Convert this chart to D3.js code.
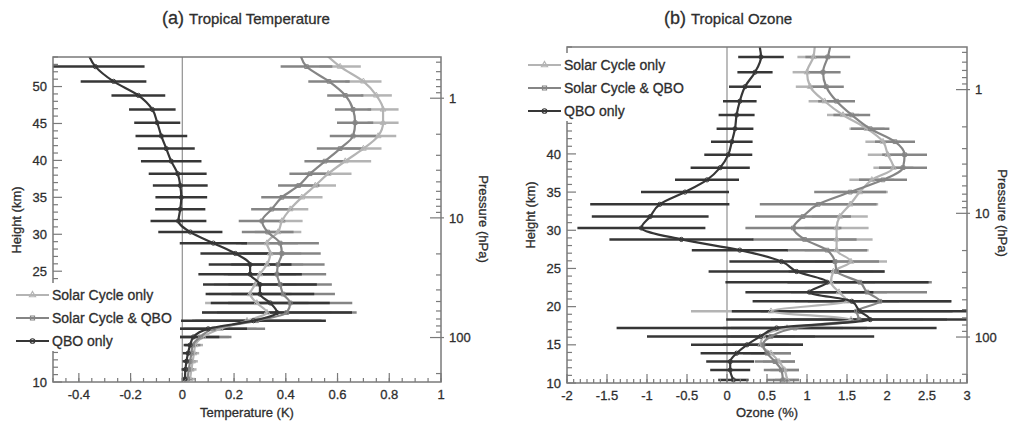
<!DOCTYPE html>
<html lang="en">
<head>
  <meta charset="UTF-8">
  <title>tropical solar cycle</title>
  <script src="https://cdn.jsdelivr.net/npm/d3@7"></script>
  <style>
    body { margin: 0; background: #fff; }
    text { font-family: "Liberation Sans", Arial, sans-serif; fill: #2e2e2e; stroke: #2e2e2e; stroke-width: 0.3px; }
  </style>
</head>
<body>
<script>
  // height levels (km), shared by both panels
  const levels = [54.5, 52.7, 50.7, 48.8, 46.9, 45.1, 43.3, 41.6, 39.9, 38.2, 36.6, 35.0, 33.4, 31.8, 30.3,
    28.8, 27.4, 25.9, 24.6, 23.2, 21.9, 20.7, 19.4, 18.3, 17.2, 16.1, 15.0, 13.9, 12.8, 11.7, 10.4];

  // (a) temperature response, K
  const tempSolar = [0.55, 0.61, 0.70, 0.75, 0.776, 0.776, 0.757, 0.70, 0.63, 0.564, 0.514, 0.462, 0.417, 0.385, 0.37,
    0.327, 0.34, 0.327, 0.30, 0.282, 0.262, 0.288, 0.327, 0.25, 0.147, 0.08, 0.05, 0.045, 0.04, 0.035, 0.03];
  const tempSolarErr = [0.08, 0.08, 0.07, 0.06, 0.06, 0.06, 0.07, 0.07, 0.1, 0.09, 0.08, 0.08, 0.07, 0.08, 0.09,
    0.12, 0.12, 0.14, 0.14, 0.16, 0.16, 0.2, 0.25, 0.2, 0.14, 0.1, 0.03, 0.02, 0.02, 0.02, 0.02];
  const tempBoth = [0.455, 0.48, 0.567, 0.63, 0.66, 0.668, 0.66, 0.61, 0.552, 0.494, 0.45, 0.385, 0.346, 0.308, 0.33,
    0.378, 0.385, 0.37, 0.366, 0.378, 0.39, 0.417, 0.404, 0.288, 0.12, 0.07, 0.04, 0.035, 0.03, 0.025, 0.02];
  const tempBothErr = [0.1, 0.1, 0.08, 0.07, 0.07, 0.07, 0.09, 0.09, 0.08, 0.08, 0.08, 0.08, 0.08, 0.09, 0.1,
    0.15, 0.15, 0.18, 0.19, 0.2, 0.2, 0.24, 0.27, 0.25, 0.2, 0.12, 0.03, 0.02, 0.02, 0.02, 0.02];
  const tempQbo = [-0.365, -0.336, -0.266, -0.17, -0.116, -0.097, -0.081, -0.062, -0.043, -0.018, -0.008, -0.004, -0.008, -0.015, 0.031,
    0.12, 0.205, 0.262, 0.262, 0.30, 0.30, 0.34, 0.366, 0.275, 0.10, 0.043, 0.03, 0.022, 0.016, 0.012, 0.01];
  const tempQboErr = [0.19, 0.19, 0.127, 0.104, 0.09, 0.089, 0.10, 0.11, 0.117, 0.112, 0.106, 0.10, 0.097, 0.108, 0.124,
    0.13, 0.135, 0.16, 0.2, 0.22, 0.21, 0.23, 0.29, 0.28, 0.15, 0.1, 0.025, 0.02, 0.015, 0.015, 0.012];

  // (b) ozone response, %
  const ozoneSolar = [1.10, 1.08, 1.00, 1.04, 1.22, 1.45, 1.75, 1.95, 2.01, 2.08, 1.81, 1.66, 1.54, 1.41, 1.37,
    1.37, 1.37, 1.55, 1.33, 1.30, 1.40, 1.50, 0.55, 1.55, 0.75, 0.45, 0.42, 0.55, 0.65, 0.72, 0.75];
  const ozoneSolarErr = [0.2, 0.2, 0.18, 0.18, 0.2, 0.2, 0.22, 0.22, 0.25, 0.25, 0.28, 0.35, 0.35, 0.35, 0.4,
    0.45, 0.4, 0.45, 0.5, 0.55, 0.6, 0.65, 1.0, 0.9, 0.7, 0.4, 0.35, 0.25, 0.2, 0.18, 0.15];
  const ozoneBoth = [1.30, 1.26, 1.20, 1.24, 1.37, 1.56, 1.79, 2.10, 2.22, 2.20, 1.95, 1.54, 1.14, 0.95, 0.83,
    0.97, 1.25, 1.35, 1.37, 1.66, 1.75, 1.91, 1.62, 1.65, 0.85, 0.55, 0.45, 0.5, 0.6, 0.68, 0.7];
  const ozoneBothErr = [0.28, 0.28, 0.22, 0.22, 0.23, 0.23, 0.24, 0.25, 0.28, 0.3, 0.3, 0.45, 0.73, 0.6, 0.6,
    0.65, 0.5, 0.55, 0.6, 0.9, 0.75, 0.9, 1.2, 1.1, 0.9, 0.55, 0.5, 0.3, 0.25, 0.22, 0.2];
  const ozoneQbo = [0.40, 0.425, 0.35, 0.225, 0.16, 0.12, 0.10, 0.06, 0.016, -0.085, -0.25, -0.525, -0.84, -0.96, -1.07,
    -0.57, 0.16, 0.68, 0.87, 1.25, 1.03, 1.56, 1.66, 1.79, 0.62, 0.42, 0.25, 0.12, 0.04, 0.04, 0.08];
  const ozoneQboErr = [0.29, 0.285, 0.22, 0.2, 0.21, 0.225, 0.23, 0.26, 0.3, 0.37, 0.4, 0.55, 0.87, 0.73, 0.8,
    0.9, 0.6, 0.65, 1.1, 1.27, 0.8, 1.24, 1.6, 1.8, 2.0, 1.42, 0.7, 0.45, 0.3, 0.25, 0.19];

  const seriesNames = ['Solar Cycle only', 'Solar Cycle & QBO', 'QBO only'];
  const heightTicks = [10, 15, 20, 25, 30, 35, 40, 45, 50];
  const pressureTicks = [1, 10, 100];

  const colors = ['#b4b4b4', '#858585', '#363636'];
  const markers = [d3.symbolTriangle, d3.symbolSquare, d3.symbolCircle];

  // approximate height of a pressure level (km)
  const zOfP = p => 48.42 - 16.2 * Math.log10(p);

  const svg = d3.select('body').append('svg')
    .attr('width', 1017)
    .attr('height', 422);

  function drawPanel(o) {
    const x = d3.scaleLinear().domain(o.xDomain).range([o.left, o.right]);
    const y = d3.scaleLinear().domain([10, 54]).range([o.bottom, o.top]);
    const g = svg.append('g');

    g.append('clipPath').attr('id', o.id)
      .append('rect')
      .attr('x', o.left).attr('y', o.top)
      .attr('width', o.right - o.left).attr('height', o.bottom - o.top);

    // zero line
    g.append('line')
      .attr('x1', x(0)).attr('x2', x(0))
      .attr('y1', o.top).attr('y2', o.bottom)
      .attr('stroke', '#999').attr('stroke-width', 1.3);

    const plot = g.append('g').attr('clip-path', `url(#${o.id})`);

    // error bars, light first
    o.series.forEach((s, k) => {
      plot.append('g').selectAll('line')
        .data(levels.map((h, i) => ({h, v: s.v[i], e: s.e[i]})))
        .join('line')
        .attr('x1', d => x(d.v - d.e)).attr('x2', d => x(d.v + d.e))
        .attr('y1', d => y(d.h)).attr('y2', d => y(d.h))
        .attr('stroke', colors[k]).attr('stroke-width', 2.5);
    });

    const line = d3.line().curve(d3.curveMonotoneY);
    o.series.forEach((s, k) => {
      const pts = levels.map((h, i) => [x(s.v[i]), y(h)]);
      plot.append('path')
        .attr('d', line(pts))
        .attr('fill', 'none')
        .attr('stroke', colors[k]).attr('stroke-width', 2.2);
      plot.append('g').selectAll('path')
        .data(pts)
        .join('path')
        .attr('transform', d => `translate(${d[0]},${d[1]})`)
        .attr('d', d3.symbol(markers[k], 14))
        .attr('fill', 'none')
        .attr('stroke', colors[k]).attr('stroke-width', 1);
    });

    // frame
    g.append('rect')
      .attr('x', o.left).attr('y', o.top)
      .attr('width', o.right - o.left).attr('height', o.bottom - o.top)
      .attr('fill', 'none').attr('stroke', '#7a7a7a').attr('stroke-width', 1.5);

    const ticks = g.append('g').attr('stroke', '#7a7a7a').attr('stroke-width', 1.2);

    // bottom ticks
    const [a, b] = o.xDomain;
    d3.range(Math.round(a / o.xMinor), Math.round(b / o.xMinor) + 1).forEach(i => {
      const v = i * o.xMinor;
      ticks.append('line')
        .attr('x1', x(v)).attr('x2', x(v))
        .attr('y1', o.bottom).attr('y2', o.bottom - 4);
    });
    o.xLabels.forEach(v => {
      ticks.append('line')
        .attr('x1', x(v)).attr('x2', x(v))
        .attr('y1', o.bottom).attr('y2', o.bottom - 9);
      g.append('text')
        .attr('x', x(v)).attr('y', o.bottom + 17)
        .attr('text-anchor', 'middle')
        .style('font-size', '13px')
        .text(String(+v.toFixed(2)));
    });

    // height ticks
    d3.range(10, 55).forEach(h => {
      ticks.append('line')
        .attr('x1', o.left).attr('x2', o.left + (h % 5 === 0 ? 9 : 5))
        .attr('y1', y(h)).attr('y2', y(h));
    });
    heightTicks.forEach(h => {
      g.append('text')
        .attr('x', o.left - 6).attr('y', y(h))
        .attr('dy', '0.36em')
        .attr('text-anchor', 'end')
        .style('font-size', '13px')
        .text(h);
    });

    // pressure ticks on the right
    const minor = [0.5, 0.6, 0.7, 0.8, 0.9]
      .concat(d3.range(2, 10), d3.range(20, 100, 10), [200]);
    minor.forEach(p => {
      const z = zOfP(p);
      if (z < 10 || z > 54) return;
      ticks.append('line')
        .attr('x1', o.right).attr('x2', o.right - 5)
        .attr('y1', y(z)).attr('y2', y(z));
    });
    pressureTicks.forEach(p => {
      const yy = y(zOfP(p));
      ticks.append('line')
        .attr('x1', o.right - 11).attr('x2', o.right + 3)
        .attr('y1', yy).attr('y2', yy);
      g.append('text')
        .attr('x', o.right + 8).attr('y', yy)
        .attr('dy', '0.36em')
        .style('font-size', '13px')
        .text(p);
    });

    // axis titles
    g.append('text')
      .attr('x', (o.left + o.right) / 2).attr('y', 417)
      .attr('text-anchor', 'middle')
      .style('font-size', '13px')
      .text(o.xLabel);
    g.append('text')
      .attr('transform', `translate(${o.left - 32},${o.hLabelY}) rotate(-90)`)
      .attr('text-anchor', 'middle')
      .style('font-size', '13px')
      .text('Height (km)');
    g.append('text')
      .attr('transform', `translate(${o.pLabelX},${o.pLabelY}) rotate(90)`)
      .attr('text-anchor', 'middle')
      .style('font-size', '13px')
      .text('Pressure (hPa)');

    // title
    const t = g.append('text')
      .attr('x', o.titleX).attr('y', 24)
      .attr('text-anchor', 'middle');
    t.append('tspan').style('font-size', '18px').text(o.tag + ' ');
    t.append('tspan').style('font-size', '15px').text(o.title);

    // legend, with a white box over the axis
    const lg = g.append('g');
    lg.append('rect')
      .attr('x', o.legend.x - 8).attr('y', o.legend.y - 12)
      .attr('width', o.legend.w).attr('height', 68)
      .attr('fill', '#fff');
    seriesNames.forEach((name, k) => {
      const ly = o.legend.y + k * 23;
      lg.append('line')
        .attr('x1', o.legend.x).attr('x2', o.legend.x + 33)
        .attr('y1', ly).attr('y2', ly)
        .attr('stroke', colors[k]).attr('stroke-width', 2);
      lg.append('path')
        .attr('transform', `translate(${o.legend.x + 16.5},${ly})`)
        .attr('d', d3.symbol(markers[k], 16))
        .attr('fill', 'none')
        .attr('stroke', colors[k]).attr('stroke-width', 1.2);
      lg.append('text')
        .attr('x', o.legend.x + 36).attr('y', ly)
        .attr('dy', '0.36em')
        .style('font-size', '14px')
        .text(name);
    });
  }

  drawPanel({
    id: 'clipA', left: 53, right: 441, top: 57, bottom: 382,
    xDomain: [-0.5, 1], xMinor: 0.05,
    xLabels: d3.range(-0.4, 1.0001, 0.2),
    xLabel: 'Temperature (K)',
    hLabelY: 220, pLabelX: 479, pLabelY: 219,
    titleX: 246, tag: '(a)', title: 'Tropical Temperature',
    legend: {x: 16, y: 295, w: 172},
    series: [
      {v: tempSolar, e: tempSolarErr},
      {v: tempBoth, e: tempBothErr},
      {v: tempQbo, e: tempQboErr}
    ]
  });

  drawPanel({
    id: 'clipB', left: 567, right: 967, top: 47, bottom: 383,
    xDomain: [-2, 3], xMinor: 1 / 12,
    xLabels: d3.range(-2, 3.0001, 0.5),
    xLabel: 'Ozone (%)',
    hLabelY: 215, pLabelX: 998, pLabelY: 213,
    titleX: 728, tag: '(b)', title: 'Tropical Ozone',
    legend: {x: 528, y: 65, w: 172},
    series: [
      {v: ozoneSolar, e: ozoneSolarErr},
      {v: ozoneBoth, e: ozoneBothErr},
      {v: ozoneQbo, e: ozoneQboErr}
    ]
  });
</script>
</body>
</html>
